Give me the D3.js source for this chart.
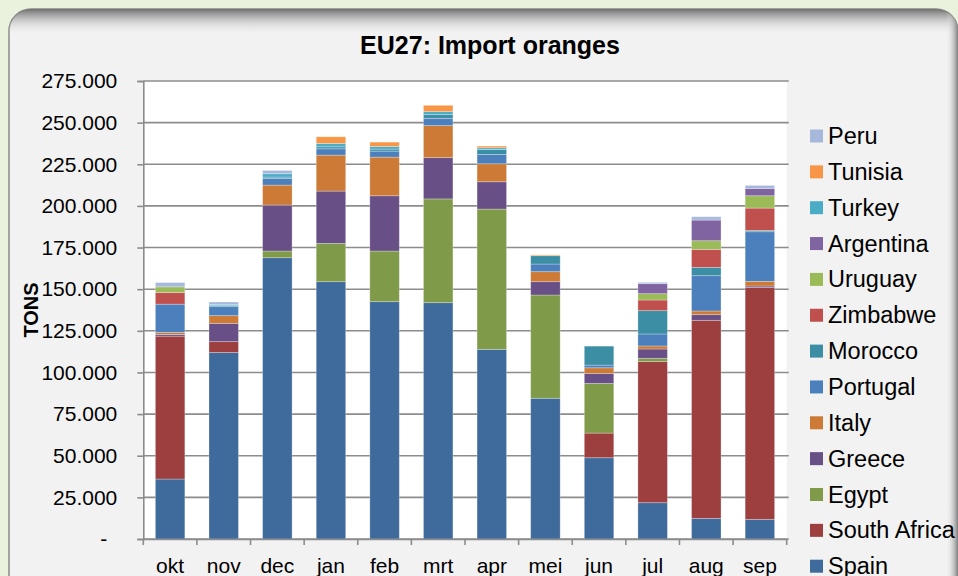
<!DOCTYPE html>
<html>
<head>
<meta charset="utf-8">
<script src="https://cdn.jsdelivr.net/npm/d3@7"></script>
<style>
html,body{margin:0;padding:0;background:#eaf1dd;}
svg{display:block;font-family:"Liberation Sans",Arial,sans-serif;}
</style>
</head>
<body>
<svg id="chart" width="958" height="576"></svg>
<script>
const months = ["okt","nov","dec","jan","feb","mrt","apr","mei","jun","jul","aug","sep"];
const series = ["Spain","South Africa","Egypt","Greece","Italy","Portugal","Morocco","Zimbabwe","Uruguay","Argentina","Turkey","Tunisia","Peru"];
const spain       = [36000,112000,168900,154500,142500,141900,113900,84500,48800,21800,12400,11800];
const southAfrica = [85800,6500,0,0,0,0,0,0,14800,84700,118900,139300];
const egypt       = [0,0,4000,23000,30400,62300,84200,62000,29800,2000,0,0];
const greece      = [1000,11000,27600,31400,33200,24800,16400,8000,6000,5600,3400,800];
const italy       = [1200,4600,12000,21600,23200,19200,10800,6000,3400,1800,2200,2800];
const portugal    = [17000,5400,4000,3800,3600,4400,5600,4600,1600,7200,21200,29800];
const morocco     = [0,700,800,1200,1200,2200,3000,5000,11400,14000,5000,800];
const zimbabwe    = [7000,0,0,0,0,0,0,0,0,6400,10800,13400];
const uruguay     = [3400,0,0,0,0,0,0,0,0,3800,5200,7400];
const argentina   = [0,0,0,0,0,0,0,0,0,6000,12400,4400];
const turkey      = [0,700,2000,2000,1600,1800,1000,0,0,0,0,0];
const tunisia     = [0,0,0,4000,2600,3800,1000,500,0,0,0,0];
const peru        = [2600,1400,2000,0,0,0,0,0,0,800,2000,1800];
const yTicks = [0,25000,50000,75000,100000,125000,150000,175000,200000,225000,250000,275000];
const colors = ["#3f6a9c","#9c3f3e","#7f9a48","#684f86","#cc7a36","#4c80bd","#3b8ea4","#c0504d","#9bbb59","#8064a2","#4bacc6","#f79646","#a7b9db"];

const valuesBySeries = [spain,southAfrica,egypt,greece,italy,portugal,morocco,zimbabwe,uruguay,argentina,turkey,tunisia,peru];
const table = months.map((m,i)=>{const o={month:m}; series.forEach((s,j)=>o[s]=valuesBySeries[j][i]); return o;});

const svg = d3.select("#chart");
const defs = svg.append("defs");
const gTop = defs.append("linearGradient").attr("id","gtop").attr("x1",0).attr("y1",0).attr("x2",0).attr("y2",1);
gTop.append("stop").attr("offset","0").attr("stop-color","#707070");
gTop.append("stop").attr("offset","1").attr("stop-color","#f2f2f2").attr("stop-opacity",0);
const gRight = defs.append("linearGradient").attr("id","gright").attr("x1",0).attr("y1",0).attr("x2",1).attr("y2",0);
gRight.append("stop").attr("offset","0").attr("stop-color","#f2f2f2").attr("stop-opacity",0);
gRight.append("stop").attr("offset","1").attr("stop-color","#808080");
defs.append("clipPath").attr("id","panelclip").append("rect")
  .attr("x",9).attr("y",9).attr("width",949).attr("height",600).attr("rx",22).attr("ry",22);

// panel
svg.append("rect").attr("x",9).attr("y",9).attr("width",949).attr("height",600).attr("rx",22).attr("ry",22)
  .attr("fill","#f2f2f2").attr("stroke","#8a8a8a").attr("stroke-width",1.5);
const pc = svg.append("g").attr("clip-path","url(#panelclip)");
pc.append("rect").attr("x",9).attr("y",9).attr("width",949).attr("height",26).attr("fill","url(#gtop)");
pc.append("rect").attr("x",946).attr("y",9).attr("width",12).attr("height",600).attr("fill","url(#gright)");

const x0 = 143.3, x1 = 786.7, yTop = 81, yBot = 539;
const x = d3.scaleBand().domain(months).range([x0,x1]).paddingInner(0.45).paddingOuter(0.225);
const y = d3.scaleLinear().domain([0,275000]).range([yBot,yTop]);

// plot area
svg.append("rect").attr("x",x0).attr("y",yTop).attr("width",x1-x0).attr("height",yBot-yTop).attr("fill","#ffffff");

// gridlines
svg.append("g").selectAll("line").data(yTicks).join("line")
  .attr("x1",x0).attr("x2",x1+2).attr("y1",d=>y(d)).attr("y2",d=>y(d))
  .attr("stroke","#8c8c8c").attr("stroke-width",1.6);

// bars
const stack = d3.stack().keys(series);
const stacked = stack(table);
const bars = svg.append("g");
stacked.forEach((layer,j)=>{
  bars.append("g").attr("fill",colors[j]).selectAll("rect").data(layer).join("rect")
    .attr("x",d=>x(d.data.month)).attr("width",x.bandwidth())
    .attr("y",d=>y(d[1])).attr("height",d=>Math.max(0,y(d[0])-y(d[1])))
    .attr("stroke","rgba(255,255,255,0.35)").attr("stroke-width",0.8);
});

// axes
const fmtLocale = d3.formatLocale({decimal:",",thousands:".",grouping:[3],currency:["",""]});
const fmt = fmtLocale.format(",d");
const yAxis = d3.axisLeft(y).tickValues(yTicks).tickSize(6).tickPadding(20).tickFormat(d=>d===0?"-":fmt(d));
const ya = svg.append("g").attr("transform",`translate(${x0},0)`).call(yAxis);
ya.select(".domain").attr("stroke","#8c8c8c").attr("stroke-width",1.6);
ya.selectAll(".tick line").attr("stroke","#8c8c8c").attr("stroke-width",1.6);
ya.selectAll(".tick text").attr("font-size",21).attr("fill","#000").attr("font-family","'Liberation Sans',Arial,sans-serif")
  .attr("dx",d=>d===0?-10:0);

const xAxis = d3.axisBottom(x).tickSize(0).tickPadding(19);
const xa = svg.append("g").attr("transform",`translate(0,${yBot})`).call(xAxis);
xa.select(".domain").attr("stroke","#8c8c8c").attr("stroke-width",1.6);
xa.selectAll(".tick text").attr("font-size",21).attr("fill","#000").attr("font-family","'Liberation Sans',Arial,sans-serif");
// boundary tick marks
const bounds = months.map(m=>x(m)-x.step()*x.paddingInner()/2).concat([x1]);
svg.append("g").selectAll("line").data(bounds).join("line")
  .attr("x1",d=>d).attr("x2",d=>d).attr("y1",yBot).attr("y2",yBot+6)
  .attr("stroke","#8c8c8c").attr("stroke-width",1.6);

// title
svg.append("text").attr("x",490).attr("y",54).attr("text-anchor","middle")
  .attr("font-size",25).attr("font-weight","bold").attr("fill","#000").text("EU27: Import oranges");
// y title
svg.append("text").attr("transform","translate(38,310) rotate(-90)").attr("text-anchor","middle")
  .attr("font-size",20).attr("font-weight","bold").attr("fill","#000").text("TONS");

// legend
const legendItems = series.map((s,j)=>({name:s,color:colors[j]})).reverse();
const lg = svg.append("g").selectAll("g").data(legendItems).join("g")
  .attr("transform",(d,i)=>`translate(810,${136+i*35.85})`);
lg.append("rect").attr("x",0).attr("y",-6.5).attr("width",13).attr("height",13).attr("fill",d=>d.color);
lg.append("text").attr("x",18).attr("y",8).attr("font-size",23.5).attr("fill","#000").text(d=>d.name);
</script>
</body>
</html>
